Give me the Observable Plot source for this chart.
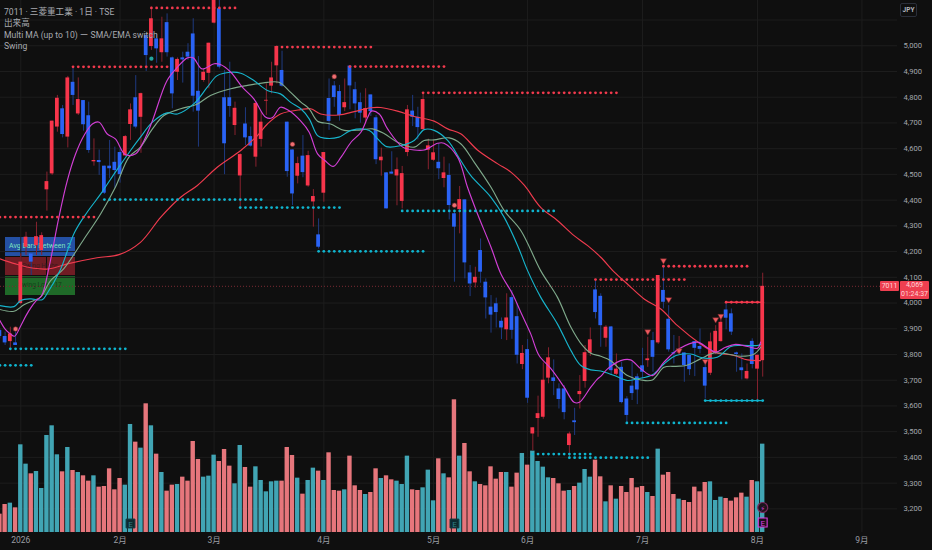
<!DOCTYPE html>
<html lang="ja">
<head>
<meta charset="utf-8">
<script src="https://cdn.jsdelivr.net/npm/d3@7"></script>
<script src="https://cdn.jsdelivr.net/npm/@observablehq/plot@0.6"></script>
<style>
html,body{margin:0;padding:0;background:#0f0f0f;width:932px;height:550px;overflow:hidden;font-family:Roboto,"Noto Sans CJK JP",sans-serif}
#wrap{position:relative;width:932px;height:550px}
#chart{position:absolute;left:0;top:0;z-index:1}
#chart svg{background:transparent;display:block}
#legend{position:absolute;left:4px;top:7px;z-index:2;color:#a8aab0;font-size:8.6px;line-height:11.4px;white-space:nowrap}
#table{position:absolute;left:5px;top:237px;width:70px;z-index:0;font-size:6.5px;line-height:18px;text-align:center}
#table div{height:18.5px;margin-bottom:1px;overflow:hidden;white-space:nowrap}
#table .a{background:#2450a4;color:#7fe3c0;font-size:7px}
#table .b{color:#3d1a1e;background-image:linear-gradient(#0f0f0f,#0f0f0f);background-size:1px 100%;background-position:41px 0;background-repeat:no-repeat;background-color:#701c24}
#table .c{background:#1f6a28;color:#123f18}
#jpy{position:absolute;left:900px;top:3px;width:17px;height:14px;border:1px solid #2a2e39;border-radius:2px;background:#0f0f0f;color:#b2b5be;font-size:6.5px;font-weight:700;line-height:12px;text-align:center;z-index:2;box-sizing:border-box}
#sym{position:absolute;left:880px;top:281px;width:19px;height:10px;background:#ee3f50;color:#ffd5d9;font-size:7px;line-height:10px;text-align:center;z-index:2;border-radius:1px}
#last{position:absolute;left:900px;top:281px;width:29px;height:17.5px;background:#ee3f50;color:#ffd5d9;font-size:7px;line-height:8.7px;text-align:center;z-index:2;border-radius:1px}
</style>
</head>
<body>
<div id="wrap">
<div id="table"><div class="a">Avg Bars Between 2</div><div class="b">Swing Highs</div><div class="c">Swing Lows 17</div></div>
<div id="chart"></div>
<div id="legend">7011 · 三菱重工業 · 1日 · TSE<br>出来高<br>Multi MA (up to 10) ー SMA/EMA switch<br>Swing</div>
<div id="jpy">JPY</div>
<div id="sym">7011</div>
<div id="last">4,069<br>01:24:37</div>
</div>
<script>
const monthTicks=[4,23,41,62,83,101,123,145,165];
const monthLabels=["2026","2月","3月","4月","5月","6月","7月","8月","9月"];
const lastPrice=4065;
// r = rising candle, b = falling candle
const direction=("bbrbrrbrrr"+"rrbrbrbbrb"+"bbbbrrbrbr"+"brbbrbbbbr"+"rrbbbrrbbr"+"rrrrbbbrbr"+"rbrbbbrbbb"+"rbbrbbrrrb"+"brrrbrbbrb"+"brbbbbbrbb"+"rbrrrrbbbr"+"brrrbbrbrb"+"bbbbrbrbbb"+"rbbbbbrrrb"+"bbbrbrr").split("");
const high=[3899,3887,3906,3887,4191,4275,4191,4314,4273,4509,
4707,4807,4768,4881,4919,4875,4787,4781,4638,4595,
4532,4632,4606,4599,4651,4774,4884,4816,5046,5150,
5046,5111,5124,4956,4953,4975,5008,5105,4958,4910,
5010,5202,5182,4904,4936,4781,4580,4759,4684,4781,
4742,4852,4936,4998,4979,4703,4595,4567,4651,4590,
4441,4327,4585,4871,4861,4846,4871,4923,4858,4816,
4833,4809,4729,4602,4506,4588,4564,4531,4768,4807,
4761,4813,4637,4632,4619,4567,4541,4357,4453,4401,
4146,4139,4249,4094,4029,4019,3942,4036,4048,3997,
3835,3858,3515,3638,3767,3826,3779,3686,3679,3498,
3591,3718,3835,3903,4087,4036,3912,3909,3802,3770,
3636,3770,3724,3824,3867,3886,4107,4142,3990,3874,
3870,3806,3796,3850,3899,3763,3883,3912,3945,3997,
3977,3809,3802,3763,3861,3797,4116];
const bodyTop=[3893,3870,3880,3845,4159,4256,4191,4258,4262,4472,
4707,4796,4755,4875,4858,4791,4787,4728,4554,4554,
4532,4532,4547,4585,4647,4751,4798,4814,5040,5105,
5027,5027,5090,4953,4947,4953,4975,5046,4823,4897,
5010,5176,5144,4798,4798,4757,4577,4696,4647,4776,
4703,4788,4875,4997,4904,4703,4595,4542,4571,4573,
4414,4265,4585,4795,4844,4822,4779,4921,4829,4779,
4756,4809,4720,4567,4506,4509,4518,4503,4751,4746,
4722,4791,4611,4584,4547,4506,4496,4347,4402,4401,
4117,4100,4204,4081,3984,3997,3929,3942,4021,3947,
3804,3819,3515,3570,3700,3787,3709,3666,3666,3491,
3542,3656,3807,3857,4051,4026,3906,3907,3743,3750,
3627,3677,3713,3756,3783,3854,4107,4049,3937,3807,
3815,3806,3796,3850,3831,3749,3849,3890,3925,3973,
3958,3806,3748,3734,3851,3797,4065];
const bodyBottom=[3870,3845,3850,3835,3998,4217,4159,4223,4204,4440,
4502,4684,4655,4645,4807,4735,4693,4593,4549,4546,
4427,4522,4515,4499,4572,4694,4684,4722,4962,4997,
4988,4973,4973,4813,4897,4945,4956,4804,4746,4865,
4893,5088,4917,4619,4764,4690,4494,4642,4610,4567,
4636,4785,4843,4922,4843,4511,4424,4493,4507,4455,
4393,4217,4427,4706,4799,4729,4759,4844,4774,4738,
4719,4744,4557,4553,4366,4501,4494,4395,4585,4722,
4682,4674,4594,4555,4522,4484,4379,4295,4363,4156,
4074,4078,4120,4020,3953,3963,3903,3896,3894,3797,
3761,3630,3491,3551,3556,3708,3695,3625,3574,3446,
3535,3644,3695,3805,3963,3912,3863,3737,3723,3613,
3563,3648,3662,3731,3776,3789,3845,4003,3818,3802,
3806,3757,3741,3824,3820,3677,3727,3805,3850,3941,
3887,3800,3737,3705,3761,3743,3776];
const low=[3861,3835,3815,3835,3993,4185,4107,4185,4185,4357,
4496,4664,4642,4603,4768,4729,4668,4582,4532,4496,
4422,4483,4446,4466,4569,4632,4677,4582,4900,4982,
4932,4936,4956,4755,4865,4855,4943,4742,4606,4858,
4833,5085,4910,4499,4722,4651,4366,4612,4606,4528,
4606,4729,4813,4852,4839,4489,4379,4463,4487,4450,
4295,4210,4392,4671,4761,4707,4744,4751,4716,4699,
4696,4725,4538,4493,4366,4501,4378,4366,4569,4686,
4634,4671,4518,4551,4480,4448,4323,4081,4269,4094,
4025,4058,4077,3938,3883,3903,3858,3854,3859,3763,
3741,3610,3426,3478,3548,3686,3640,3588,3546,3400,
3485,3588,3669,3792,3938,3828,3828,3718,3718,3608,
3530,3621,3605,3705,3750,3731,3839,3977,3809,3763,
3802,3692,3718,3714,3802,3627,3718,3800,3848,3896,
3874,3731,3701,3701,3744,3621,3712];
const volume=[55,84,88,74,263,205,176,183,132,291,320,233,182,255,186,180,170,154,170,136,138,191,128,162,142,324,271,253,386,320,235,180,124,142,144,166,154,273,219,166,169,232,213,249,199,146,261,195,136,197,156,122,152,154,154,255,231,163,
115,156,193,184,156,239,126,124,128,229,140,126,114,120,191,162,170,158,154,144,229,128,126,134,187,95,221,176,164,398,229,267,182,152,144,140,197,160,180,180,136,178,237,202,244,213,196,164,162,146,124,126,138,148,189,166,217,
167,92,140,100,138,120,162,134,138,120,108,250,172,180,114,100,96,90,136,122,150,152,96,106,102,94,104,118,106,156,152,265];

const magentaBars=[0,1,2,2.8,4,5,6,7,8,9.4,11.3,12.9,14.5,16.1,17.7,19,20.5,22.1,24,26,27.6,29.2,32,34,35.9,37,38.7,41,42.2,44.2,46.4,48.6,50.9,52.1,53.7,55.3,57.6,59.2,60.8,62.2,63.8,65.3,67.2,69.1,70.4,71.1,72.6,74.2,77.1,79.3,81.2,83.8,85,87.6,89.5,91.4,94,95.9,98.1,99.7,101.6,103.2,105.5,108,109.9,110.9,113.1,114.4,115,116.3,118.8,120.7,122.7,124.9,127.1,130,133.5,135.4,137,138.9,140.8,143.1,145,145.6];
const magentaPrice=[3932,3899,3880,3871,3912,3951,3984,4010,4029,4139,4334,4476,4580,4651,4696,4703,4658,4638,4577,4580,4632,4709,4865,4917,4953,4953,4910,4930,4927,4897,4839,4794,4722,4720,4761,4748,4707,4664,4580,4554,4531,4567,4625,4664,4722,4746,4735,4677,4606,4595,4595,4621,4621,4567,4450,4347,4217,4113,4036,3964,3880,3796,3744,3673,3614,3614,3673,3705,3715,3744,3776,3779,3744,3718,3770,3822,3848,3826,3809,3828,3839,3831,3824,3848];
const cyanBars=[0,2.7,4,5.9,8.1,9,11.5,14.3,16.7,19.3,22.1,25,26.9,29.2,32,34,37.1,39.7,41.6,44.2,46.1,48.6,51.2,53.7,55.6,57.6,59.2,60.8,62.1,64.9,67.2,70.7,72.3,74,76.7,79.3,81.2,83.1,85.7,88.2,90.1,94,96.5,99.1,101,103.5,106.7,109.3,111.2,113.1,115,117.6,120.1,122,124.9,127.1,129.4,132.2,134.5,137.3,139.9,141.8,145,145.6];
const cyanPrice=[3990,3986,4010,4016,4013,4036,4126,4275,4353,4424,4509,4593,4645,4703,4739,4735,4774,4839,4884,4897,4893,4865,4826,4813,4781,4755,4716,4651,4641,4645,4671,4671,4638,4608,4612,4632,4674,4671,4632,4554,4496,4411,4334,4223,4126,4023,3919,3815,3757,3740,3736,3718,3699,3705,3721,3763,3796,3802,3787,3789,3831,3835,3835,3839];
const sageBars=[0,2.7,4.6,6.5,7.8,9.7,12.2,16.1,19.3,22.1,24.7,26.9,29.2,31.4,34.6,37.8,40.3,44.2,47.4,51.2,53.4,55.6,57.6,59.2,60.8,63.3,65.9,69.1,71.3,73.6,76.1,79.3,81.2,83.1,86,88.2,90.8,94,96.5,99.7,103.5,106.7,109.3,111.5,113.1,115,116.9,120.1,122.7,124.9,127.1,129.4,131.3,134.1,136.7,139.3,141.8,144.4,145.6];
const sagePrice=[3975,3968,3993,4010,4023,4087,4133,4249,4347,4450,4567,4606,4677,4729,4755,4774,4807,4833,4846,4858,4858,4820,4781,4755,4707,4696,4671,4673,4677,4658,4625,4606,4632,4634,4642,4619,4547,4450,4360,4282,4126,4023,3906,3835,3805,3793,3776,3718,3701,3701,3750,3754,3757,3783,3806,3802,3793,3802,3828];
const redBars=[0,3,6.5,9.4,12.9,18.6,22.8,26.9,30.8,34.6,37.8,41.6,46.1,49.3,51.2,53.7,57.6,59.5,61.4,64.9,67.8,71,72.9,76.1,79.3,83.1,85.7,88.2,91.4,95.3,97.8,100.4,103.5,106.7,109.9,112.5,115,117.6,120.1,123.3,126.5,129.7,134.1,136.7,140.5,143.1,145.6];
const redPrice=[4172,4152,4135,4133,4152,4176,4188,4236,4334,4411,4457,4528,4593,4651,4696,4735,4752,4755,4735,4731,4744,4759,4760,4746,4725,4707,4677,4658,4595,4541,4509,4457,4372,4321,4262,4223,4178,4120,4074,4016,3977,3912,3841,3809,3796,3779,3776];

const highStart=[0,14,29,53,67,81,114,127,139];
const highEnd=[18,32,45,71,85,118,131,143,146];
const highLevel=[4334,4918,5147,4995,4919,4817,4091,4143,4003];
const lowStart=[2,0,20,46,77,61,102,109,120,135];
const lowEnd=[24,6,50,65,106,81,113,124,139,146];
const lowLevel=[3822,3758,4402,4371,4358,4201,3413,3399,3534,3621];
const activeHigh={start:139,end:146,price:4003};
const activeLow={start:135,end:146,price:3621};

const swingRedBars=[3,56,64,87];
const swingRedPrice=[3899,4617,4880,4380];
const swingTealBars=[29];
const swingTealPrice=[4950];
const triangleBars=[124,127,128,130,135,137,138];
const trianglePrice=[3889,4165,4014,3815,3774,3936,3949];
const earningsBars=[25,87];

const priceFloor=3108, priceCeil=5176, volumeUnit=1.296;
const N=direction.length;
const bars=d3.range(N).map(i=>({i,up:direction[i]==="r",high:high[i],low:low[i],top:bodyTop[i],bottom:bodyBottom[i],vol:volume[i]}));
const zip=(a,b)=>a.map((x,k)=>({x,y:b[k]}));
const levelDots=(s,e,l)=>s.flatMap((a,k)=>d3.range(a,e[k]+1).map(i=>({x:i,y:l[k]})));

const MA=[[redBars,redPrice,"#ef3b4e"],[sageBars,sagePrice,"#7fa98b"],[cyanBars,cyanPrice,"#17b4cc"],[magentaBars,magentaPrice,"#d23fd6"]];
const RED="#f7354b",BLUE="#2a63f5",REDW="#87222f",BLUEW="#1f3a80";

const chart=Plot.plot({
  width:932,height:550,marginLeft:0,marginRight:35,marginTop:0,marginBottom:18,
  style:{background:"transparent",fontFamily:'Roboto,"Noto Sans CJK JP",sans-serif'},
  x:{type:"linear",domain:[0.115,171.8],axis:null},
  y:{type:"linear",domain:[priceFloor,priceCeil],axis:null},
  marks:[
    Plot.ruleY(d3.range(3200,5101,100),{stroke:"#1d1d1d",strokeWidth:1}),
    Plot.ruleX(monthTicks,{stroke:"#1d1d1d",strokeWidth:1}),
    Plot.axisY({anchor:"right",ticks:d3.range(3200,5001,100),tickSize:0,tickPadding:6,tickFormat:d3.format(","),fill:"#a4a7ad",fontSize:7.6,label:null}),
    Plot.axisX({anchor:"bottom",ticks:monthTicks,tickFormat:i=>monthLabels[monthTicks.indexOf(i)],tickSize:0,tickPadding:4,fill:"#9a9da3",fontSize:8.5,label:null}),
    // volume
    Plot.rect(bars,{x1:d=>d.i-0.42,x2:d=>d.i+0.42,y1:priceFloor,y2:d=>priceFloor+d.vol*volumeUnit,fill:d=>d.up?"#41a5b4":"#e6767c"}),
    // price guide
    Plot.ruleY([lastPrice],{stroke:"#7a2a33",strokeDasharray:"1,2",strokeWidth:1}),
    // wicks and bodies
    Plot.ruleX(bars,{x:"i",y1:"low",y2:"high",stroke:d=>d.up?REDW:BLUEW,strokeWidth:1}),
    Plot.rect(bars,{x1:d=>d.i-0.36,x2:d=>d.i+0.36,y1:"bottom",y2:"top",fill:d=>d.up?RED:BLUE}),
    // moving averages
    ...MA.map(([a,b,c])=>Plot.line(zip(a,b),{x:"x",y:"y",stroke:c,strokeWidth:1.15,curve:"catmull-rom"})),
    // swing levels
    Plot.ruleY([activeHigh],{x1:"start",x2:"end",y:"price",stroke:"#f7354b",strokeWidth:1.3}),
    Plot.ruleY([activeLow],{x1:"start",x2:"end",y:"price",stroke:"#12b5cf",strokeWidth:1.3}),
    Plot.dot(levelDots(highStart,highEnd,highLevel),{x:"x",y:"y",r:1.4,fill:"#f23a4d"}),
    Plot.dot(levelDots(lowStart,lowEnd,lowLevel),{x:"x",y:"y",r:1.4,fill:"#0fb5cf"}),
    // swing markers
    Plot.dot(zip(swingRedBars,swingRedPrice),{x:"x",y:"y",r:2.3,fill:"#ef6f72",stroke:"#7a2a2e",strokeWidth:0.6}),
    Plot.dot(zip(swingTealBars,swingTealPrice),{x:"x",y:"y",r:2.1,fill:"#22a5a0"}),
    Plot.dot(zip(triangleBars,trianglePrice),{x:"x",y:"y",symbol:"triangle",rotate:180,r:2.3,fill:"#ef5a5e",stroke:"#6a2428",strokeWidth:0.5}),
    // earnings and event icons
    Plot.dot(earningsBars,{x:d=>d,frameAnchor:"bottom",dy:-9,symbol:"square",r:5,fill:"#0d2a2f",stroke:"#113c42",strokeWidth:1}),
    Plot.text(earningsBars,{x:d=>d,frameAnchor:"bottom",dy:-6,text:()=>"E",fill:"#2f7f86",fontSize:8}),
    Plot.dot([N-1],{x:d=>d,frameAnchor:"bottom",dy:-25,r:5,fill:"#1c141c",stroke:"#7c2a5e",strokeWidth:1.2}),
    Plot.text([N-1],{x:d=>d,frameAnchor:"bottom",dy:-22,text:()=>"⚡",fill:"#d83ad0",fontSize:7,fontFamily:"DejaVu Sans"}),
    Plot.dot([N-1],{x:d=>d,frameAnchor:"bottom",dy:-10,symbol:"square",r:5,fill:"#1a0f1a",stroke:"#df3de0",strokeWidth:1.1}),
    Plot.text([N-1],{x:d=>d,frameAnchor:"bottom",dy:-7,text:()=>"E",fill:"#df3de0",fontSize:8})
  ]
});
document.getElementById("chart").appendChild(chart);
</script>
</body>
</html>
